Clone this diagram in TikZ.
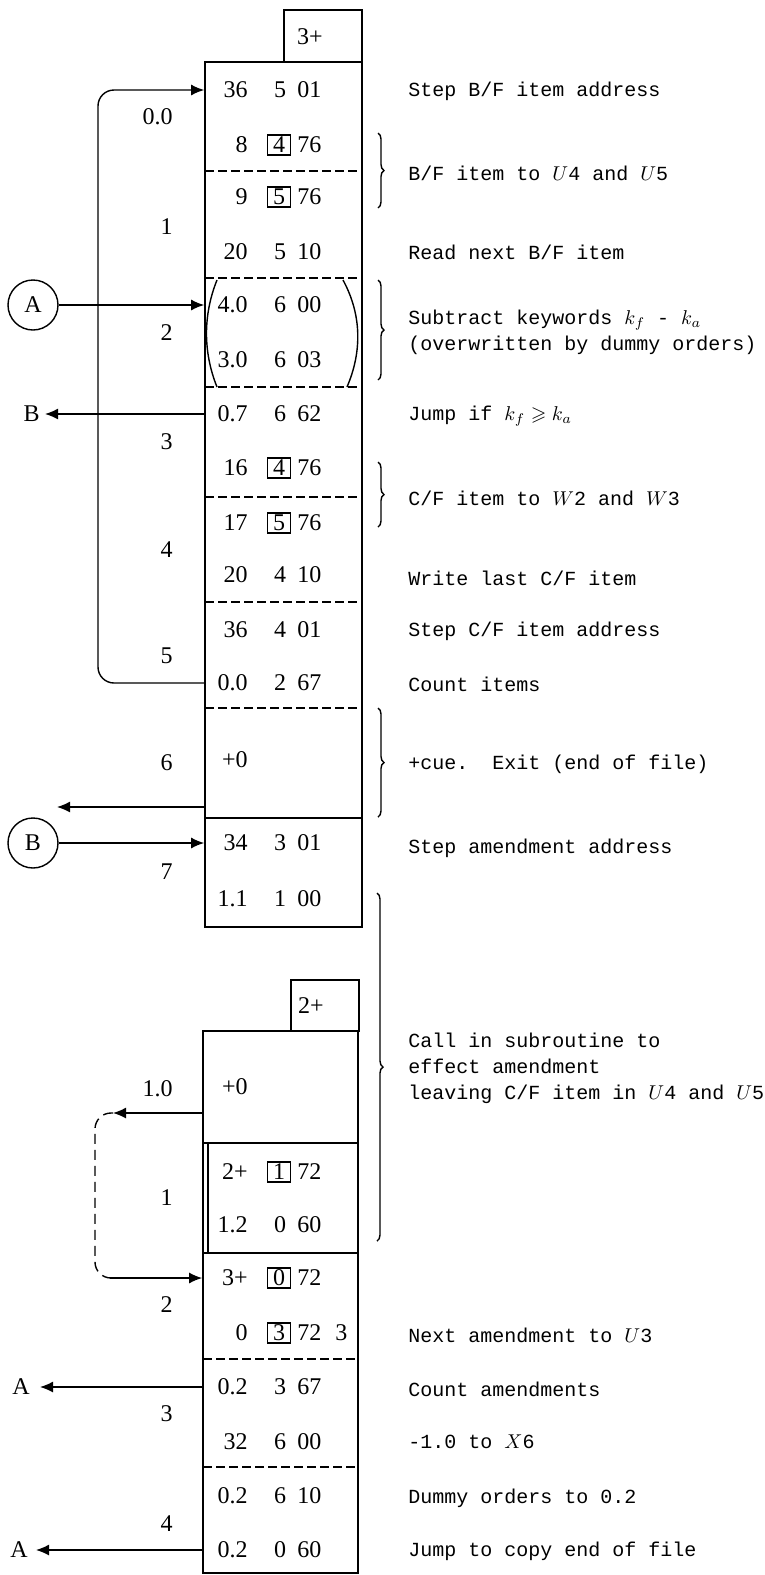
\documentclass[tikz,border=0pt]{standalone}
\usepackage{fontspec}
\setmainfont{Liberation Serif}
\setmonofont{Liberation Mono}
\usepackage{amssymb}
\usetikzlibrary{positioning,arrows.meta,fit,decorations.pathreplacing}

\begin{document}
\begin{tikzpicture}[
    x=0.5pt, y=-0.5pt,
    font=\fontsize{12}{14}\selectfont,
    >={Latex[length=6.5pt,width=5.5pt]},
    col/.style={draw, line width=0.85pt, inner sep=0pt},
    tag/.style={draw, line width=1.2pt, inner sep=0pt},
    fa/.style={anchor=east, inner sep=0pt},
    fb/.style={inner sep=0pt},
    bx/.style={draw, line width=0.6pt, minimum width=11.5pt, minimum height=10pt, inner sep=0pt},
    fc/.style={anchor=west, inner sep=0pt},
    lbl/.style={anchor=east, inner sep=0pt},
    note/.style={anchor=west, align=left, inner sep=0pt, font=\ttfamily\fontsize{10}{13}\selectfont},
    divline/.style={dash pattern=on 4.5pt off 2pt, line width=0.7pt},
    circ/.style={draw, circle, minimum size=25pt, inner sep=0pt, line width=0.7pt},
    arrow/.style={->, line width=0.7pt},
    brc/.style={decorate, decoration={brace, amplitude=3pt}, line width=0.7pt}
]
\useasboundingbox (0,0) rectangle (765,1575);

% upper block
\node[tag, fit={(284,10) (362,62)}] (hdr1) {};
\node (hdr1t) at (310,37) {3+};
\node[col, fit={(205,62) (362,927)}] (upper) {};
\foreach \y in {171,278,387,497,602,708}
    \draw[divline] (205,\y) -- (362,\y);
\draw[line width=0.85pt] (205,818) -- (362,818);
\draw[line width=0.7pt] (217,280) .. controls (203,315) and (203,352) .. (217,387);
\draw[line width=0.7pt] (343,280) .. controls (362,315) and (362,352) .. (347,387);

\node[fa] (r0a) at (248,90) {36};   \node[fb] (r0b) at (280,90) {5};   \node[fc] (r0c) at (297,90) {01};
\node[fa] (r1a) at (248,145) {8};   \node[bx] (r1b) at (279,145) {4};  \node[fc] (r1c) at (297,145) {76};
\node[fa] (r2a) at (248,197) {9};   \node[bx] (r2b) at (279,197) {5};  \node[fc] (r2c) at (297,197) {76};
\node[fa] (r3a) at (248,252) {20};  \node[fb] (r3b) at (280,252) {5};  \node[fc] (r3c) at (297,252) {10};
\node[fa] (r4a) at (248,305) {4.0}; \node[fb] (r4b) at (280,305) {6};  \node[fc] (r4c) at (297,305) {00};
\node[fa] (r5a) at (248,360) {3.0}; \node[fb] (r5b) at (280,360) {6};  \node[fc] (r5c) at (297,360) {03};
\node[fa] (r6a) at (248,414) {0.7}; \node[fb] (r6b) at (280,414) {6};  \node[fc] (r6c) at (297,414) {62};
\node[fa] (r7a) at (248,468) {16};  \node[bx] (r7b) at (279,468) {4};  \node[fc] (r7c) at (297,468) {76};
\node[fa] (r8a) at (248,523) {17};  \node[bx] (r8b) at (279,523) {5};  \node[fc] (r8c) at (297,523) {76};
\node[fa] (r9a) at (248,575) {20};  \node[fb] (r9b) at (280,575) {4};  \node[fc] (r9c) at (297,575) {10};
\node[fa] (r10a) at (248,630) {36}; \node[fb] (r10b) at (280,630) {4}; \node[fc] (r10c) at (297,630) {01};
\node[fa] (r11a) at (248,683) {0.0};\node[fb] (r11b) at (280,683) {2}; \node[fc] (r11c) at (297,683) {67};
\node[fa] (r12a) at (248,760) {+0};
\node[fa] (r13a) at (248,843) {34}; \node[fb] (r13b) at (280,843) {3}; \node[fc] (r13c) at (297,843) {01};
\node[fa] (r14a) at (248,899) {1.1};\node[fb] (r14b) at (280,899) {1}; \node[fc] (r14c) at (297,899) {00};

\node[lbl] (n0) at (173,117) {0.0};
\node[lbl] (n1) at (173,227) {1};
\node[lbl] (n2) at (173,333) {2};
\node[lbl] (n3) at (173,442) {3};
\node[lbl] (n4) at (173,550) {4};
\node[lbl] (n5) at (173,656) {5};
\node[lbl] (n6) at (173,763) {6};
\node[lbl] (n7) at (173,872) {7};

\coordinate (loopx) at (98,90);
\draw[arrow, rounded corners=8pt] (upper.west |- r11a) -| (loopx) -- (upper.west |- r0a);
\node[circ] (cA) at (33,305) {A};
\draw[arrow] (cA) -- (upper.west |- cA);
\coordinate (bTip) at (45,414);
\node[left=2.5pt of bTip, inner sep=0pt] (bLbl) {B};
\draw[arrow] (upper.west |- bTip) -- (bTip);
\coordinate (exTip) at (57,807);
\draw[arrow] (upper.west |- exTip) -- (exTip);
\node[circ] (cB) at (33,843) {B};
\draw[arrow] (cB) -- (upper.west |- cB);

% lower block
\node[tag, fit={(291,980) (359,1031)}] (hdr2) {};
\node (hdr2t) at (311,1006) {2+};
\node[col, fit={(203,1031) (358,1573)}] (lower) {};
\draw[line width=0.85pt] (203,1143) -- (358,1143);
\draw[line width=0.85pt] (203,1253) -- (358,1253);
\draw[line width=0.85pt] (208,1143) -- (208,1253);
\foreach \y in {1359,1467}
    \draw[divline] (203,\y) -- (358,\y);

\node[fa] (s0a) at (248,1087) {+0};
\node[fa] (s1a) at (248,1172) {2+};  \node[bx] (s1b) at (279,1172) {1}; \node[fc] (s1c) at (297,1172) {72};
\node[fa] (s2a) at (248,1225) {1.2}; \node[fb] (s2b) at (280,1225) {0}; \node[fc] (s2c) at (297,1225) {60};
\node[fa] (s3a) at (248,1278) {3+};  \node[bx] (s3b) at (279,1278) {0}; \node[fc] (s3c) at (297,1278) {72};
\node[fa] (s4a) at (248,1333) {0};   \node[bx] (s4b) at (279,1333) {3}; \node[fc] (s4c) at (297,1333) {72};
\node[fc] (s4d) at (335,1333) {3};
\node[fa] (s5a) at (248,1387) {0.2}; \node[fb] (s5b) at (280,1387) {3}; \node[fc] (s5c) at (297,1387) {67};
\node[fa] (s6a) at (248,1442) {32};  \node[fb] (s6b) at (280,1442) {6}; \node[fc] (s6c) at (297,1442) {00};
\node[fa] (s7a) at (248,1496) {0.2}; \node[fb] (s7b) at (280,1496) {6}; \node[fc] (s7c) at (297,1496) {10};
\node[fa] (s8a) at (248,1550) {0.2}; \node[fb] (s8b) at (280,1550) {0}; \node[fc] (s8c) at (297,1550) {60};

\node[lbl] (m0) at (173,1089) {1.0};
\node[lbl] (m1) at (173,1198) {1};
\node[lbl] (m2) at (173,1305) {2};
\node[lbl] (m3) at (173,1414) {3};
\node[lbl] (m4) at (173,1524) {4};

\coordinate (subTip) at (113,1113);
\draw[arrow] (lower.west |- subTip) -- (subTip);
\coordinate (retC) at (95,1278);
\coordinate (retS) at (110,1278);
\draw[line width=0.7pt, dash pattern=on 5pt off 3pt, rounded corners=8pt] (subTip) -| (retC) -- (retS);
\draw[arrow] (retS) -- (lower.west |- retS);
\coordinate (aTip1) at (40,1387);
\node[left=5pt of aTip1, inner sep=0pt] (aLbl1) {A};
\draw[arrow] (lower.west |- aTip1) -- (aTip1);
\coordinate (aTip2) at (36,1550);
\node[left=4pt of aTip2, inner sep=0pt] (aLbl2) {A};
\draw[arrow] (lower.west |- aTip2) -- (aTip2);

% comments on the right
\draw[brc] (378,133) -- (378,208);
\draw[brc] (378,280) -- (378,380);
\draw[brc] (378,462) -- (378,527);
\draw[brc] (378,708) -- (378,817);
\draw[brc] (377,893) -- (377,1241);

\node[note] (t0) at (408,91) {Step B/F item address};
\node[note] (t1) at (408,173) {B/F item to $U$4 and $U$5};
\node[note] (t2) at (408,252) {Read next B/F item};
\node[note] (t3) at (408,332) {Subtract keywords $k_f$ - $k_a$\\(overwritten by dummy orders)};
\node[note] (t4) at (408,416) {Jump if $k_f \geqslant k_a$};
\node[note] (t5) at (408,498) {C/F item to $W$2 and $W$3};
\node[note] (t6) at (408,578) {Write last C/F item};
\node[note] (t7) at (408,631) {Step C/F item address};
\node[note] (t8) at (408,684) {Count items};
\node[note] (t9) at (408,764) {+cue.\ \ Exit (end of file)};
\node[note] (t10) at (408,848) {Step amendment address};
\node[note] (t11) at (408,1068) {Call in subroutine to\\effect amendment\\leaving C/F item in $U$4 and $U$5};
\node[note] (t12) at (408,1335) {Next amendment to $U$3};
\node[note] (t13) at (408,1389) {Count amendments};
\node[note] (t14) at (408,1442) {-1.0 to $X$6};
\node[note] (t15) at (408,1498) {Dummy orders to 0.2};
\node[note] (t16) at (408,1551) {Jump to copy end of file};
\end{tikzpicture}
\end{document}
